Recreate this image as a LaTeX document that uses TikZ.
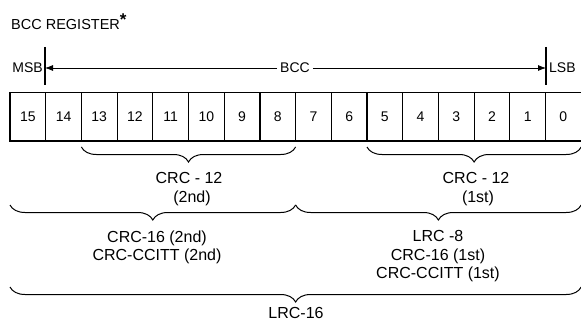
\documentclass[tikz,border=0pt]{standalone}
\usepackage{fontspec}
\setmainfont{Liberation Sans}
\usetikzlibrary{decorations.pathreplacing,arrows.meta}
\begin{document}
\begin{tikzpicture}[x=1pt,y=-1pt,
  lbl/.style={font=\fontsize{14}{18.5}\selectfont, inner sep=0pt, align=center},
  big/.style={lbl, font=\fontsize{16}{18.5}\selectfont},
  cell/.style={draw, line width=1.2pt, minimum width=35.7pt, minimum height=48.5pt,
    inner sep=0pt, outer sep=0pt, anchor=north west, font=\fontsize{14}{16}\selectfont},
  brc/.style={decorate, decoration={brace, mirror, amplitude=15pt}, line width=1pt},
  tickline/.style={line width=1.2pt},
  arr/.style={line width=0.8pt, -{Latex[length=8pt,width=6pt]}}]
\useasboundingbox (0,0) rectangle (581,321);
% title
\node[lbl, anchor=west, font=\fontsize{14.5}{16}\selectfont] (title) at (11,22) {BCC REGISTER\raisebox{4pt}{\fontsize{17}{17}\selectfont\bfseries *}};
% register cells
\foreach \i in {0,...,15} {
  \pgfmathtruncatemacro\b{15-\i}
  \node[cell] (c\b) at ({10+35.7*\i},92.5) {\b};
}
% MSB / LSB / BCC
\node[lbl, anchor=east] (msb) at (43,68) {MSB};
\node[lbl, anchor=west] (lsb) at (549,68) {LSB};
\coordinate (mt) at (45,47);
\coordinate (mb) at (45,85);
\coordinate (ma) at (45,68);
\coordinate (lt) at (546,47);
\coordinate (lb) at (546,85);
\coordinate (la) at (546,68);
\draw[tickline] (mt) -- (mb);
\draw[tickline] (lt) -- (lb);
\node[lbl, inner sep=3pt] (bcc) at (295,68) {BCC};
\draw[arr] (bcc.west) -- (ma);
\draw[arr] (bcc.east) -- (la);
% braces
\draw[brc] ([yshift=-6pt]c13.south west) -- ([yshift=-6pt]c8.south east);
\draw[brc] ([yshift=-6pt]c5.south west) -- ([yshift=-6pt]c0.south east);
\draw[brc] ([yshift=-64pt]c15.south west) -- ([yshift=-64pt]c8.south east);
\draw[brc] ([yshift=-64pt]c7.south west) -- ([yshift=-64pt]c0.south east);
\draw[brc] ([yshift=-146pt]c15.south west) -- ([yshift=-146pt]c0.south east);
% labels
\node[big] (crc12a) at (189,189) {CRC - 12\\\hspace*{6pt}(2nd)};
\node[big] (crc12b) at (476,189) {CRC - 12\\\hspace*{4pt}(1st)};
\node[big] (left2) at (157,247.5) {CRC-16 (2nd)\\CRC-CCITT (2nd)};
\node[big] (right2) at (438,256.5) {LRC -8\\CRC-16 (1st)\\CRC-CCITT (1st)};
\node[big, anchor=base] (lrc16) at (296,318) {LRC-16};
\end{tikzpicture}
\end{document}
